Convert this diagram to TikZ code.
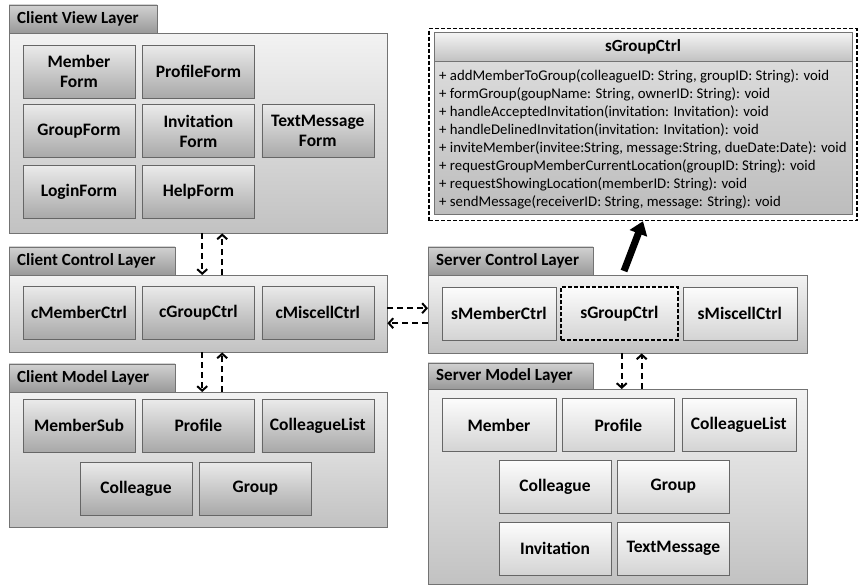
\documentclass[tikz,border=0pt]{standalone}
\usepackage{fontspec}
\setmainfont{Carlito}
\usetikzlibrary{positioning, arrows.meta}
\tikzset{
  panel/.style={draw=black!55, top color=black!5, bottom color=black!24, minimum width=378pt, inner sep=0pt, anchor=north west},
  tab/.style={draw=black!55, top color=black!18, bottom color=black!40, minimum height=28pt, inner sep=0pt, anchor=south west},
  tablabel/.style={anchor=west, xshift=8pt, inner sep=0pt, font=\bfseries\fontsize{17}{19}\selectfont},
  cbox/.style={draw=black!60, top color=black!8, bottom color=black!34, minimum width=112pt, minimum height=53pt, align=center, inner sep=1pt, font=\bfseries\fontsize{17.5}{20}\selectfont},
  sbox/.style={cbox, top color=black!1, bottom color=black!17, minimum width=114pt},
  hilite/.style={draw=black, dash pattern=on 4pt off 2pt, line width=1.4pt},
  flow/.style={dash pattern=on 6pt off 4pt, line width=2pt, -{Straight Barb[length=4.5pt,width=10pt]}},
  meth/.style={anchor=west, inner sep=0pt, font=\fontsize{14.8}{16}\selectfont},
  bigarrow/.style={line width=7pt, -{Triangle[length=13pt,width=18pt]}},
}
\begin{document}
\begin{tikzpicture}[x=1pt, y=-1pt, node distance=7pt]
  \useasboundingbox[fill=white] (0,0) rectangle (858,587);
  % client side
  \node[panel, minimum height=200pt] (cvp) at (9,33) {};
  \node[tab, minimum width=148pt, label={[tablabel]west:Client View Layer}] (cvt) at (cvp.north west) {};
  \node[panel, minimum height=77pt] (ccp) at (9,275) {};
  \node[tab, minimum width=166pt, label={[tablabel]west:Client Control Layer}] (cct) at (ccp.north west) {};
  \node[panel, minimum height=135pt] (cmp) at (9,392) {};
  \node[tab, minimum width=166pt, label={[tablabel]west:Client Model Layer}] (cmt) at (cmp.north west) {};

  \node[cbox] (mform) at (79,71.5) {Member\\Form};
  \node[cbox, right=of mform] (pform) {ProfileForm};
  \node[cbox] (gform) at (79,131) {GroupForm};
  \node[cbox, right=of gform] (iform) {Invitation\\Form};
  \node[cbox, right=of iform] (tform) {TextMessage\\Form};
  \node[cbox] (lform) at (79,192) {LoginForm};
  \node[cbox, right=of lform] (hform) {HelpForm};

  \node[cbox] (cmem) at (79,312.5) {cMemberCtrl};
  \node[cbox, right=of cmem] (cgrp) {cGroupCtrl};
  \node[cbox, right=of cgrp] (cmis) {cMiscellCtrl};

  \node[cbox] (msub) at (79,425.5) {MemberSub};
  \node[cbox, right=of msub] (cprof) {Profile};
  \node[cbox, right=of cprof] (clist) {ColleagueList};
  \node[cbox] (ccol) at (136,488.5) {Colleague};
  \node[cbox, right=of ccol] (cgroup) {Group};

  % server side
  \node[panel, minimum width=379pt, minimum height=78pt] (scp) at (428,275) {};
  \node[tab, minimum width=165pt, label={[tablabel]west:Server Control Layer}] (sct) at (scp.north west) {};
  \node[panel, minimum width=379pt, minimum height=195pt] (smp) at (428,389) {};
  \node[tab, minimum width=165pt, minimum height=26pt, label={[tablabel]west:Server Model Layer}] (smt) at (smp.north west) {};

  \node[sbox] (smem) at (499,313.5) {sMemberCtrl};
  \node[sbox, hilite, right=4pt of smem, minimum width=117pt] (sgrp) {sGroupCtrl};
  \node[sbox, right=4pt of sgrp] (smis) {sMiscellCtrl};

  \node[sbox] (mem) at (499,425) {Member};
  \node[sbox, right=6pt of mem, minimum width=112pt] (sprof) {Profile};
  \node[sbox, right=of sprof] (slist) {ColleagueList};
  \node[sbox, minimum width=112pt] (scol) at (555,486.5) {Colleague};
  \node[sbox, right=6pt of scol, minimum width=112pt] (sgroup) {Group};
  \node[sbox, minimum width=112pt] (inv) at (555,548.5) {Invitation};
  \node[sbox, right=6pt of inv, minimum width=112pt] (tmsg) {TextMessage};

  % class detail of sGroupCtrl
  \node[hilite, fill=white, minimum width=428pt, minimum height=192pt] (cls) at (643,124.5) {};
  \node[draw=black!55, top color=black!4, bottom color=black!24, minimum width=418pt, minimum height=29pt, anchor=north, font=\bfseries\fontsize{17}{19}\selectfont] (ttl) at ([yshift=-4pt]cls.north) {sGroupCtrl};
  \node[draw=black!55, top color=black!14, bottom color=black!26, minimum width=418pt, minimum height=153pt, anchor=north] (body) at (ttl.south) {};
  \foreach \m [count=\i] in {%
      {+ addMemberToGroup(colleagueID: String, groupID: String): void},
      {+ formGroup(goupName: String, ownerID: String): void},
      {+ handleAcceptedInvitation(invitation: Invitation): void},
      {+ handleDelinedInvitation(invitation: Invitation): void},
      {+ inviteMember(invitee:String, message:String, dueDate:Date): void},
      {+ requestGroupMemberCurrentLocation(groupID: String): void},
      {+ requestShowingLocation(memberID: String): void},
      {+ sendMessage(receiverID: String, message: String): void}}
    \node[meth] (m\i) at (439,58+18*\i) {\m};

  % connectors
  \draw[flow] ([xshift=4pt]cvp.south) -- ([xshift=4pt]ccp.north);
  \draw[flow] ([xshift=24pt]ccp.north) -- ([xshift=24pt]cvp.south);
  \draw[flow] ([xshift=4pt]ccp.south) -- ([xshift=4pt]cmp.north);
  \draw[flow] ([xshift=24pt]cmp.north) -- ([xshift=24pt]ccp.south);
  \draw[flow] ([yshift=5.5pt]ccp.east) -- ([yshift=6pt]scp.west);
  \draw[flow] ([yshift=-9pt]scp.west) -- ([yshift=-9.5pt]ccp.east);
  \draw[flow] ([xshift=4pt]scp.south) -- ([xshift=4pt]smp.north);
  \draw[flow] ([xshift=24pt]smp.north) -- ([xshift=24pt]scp.south);
  \coordinate (tail) at (624,271);
  \draw[bigarrow] (tail) -- (cls.south);
\end{tikzpicture}
\end{document}
